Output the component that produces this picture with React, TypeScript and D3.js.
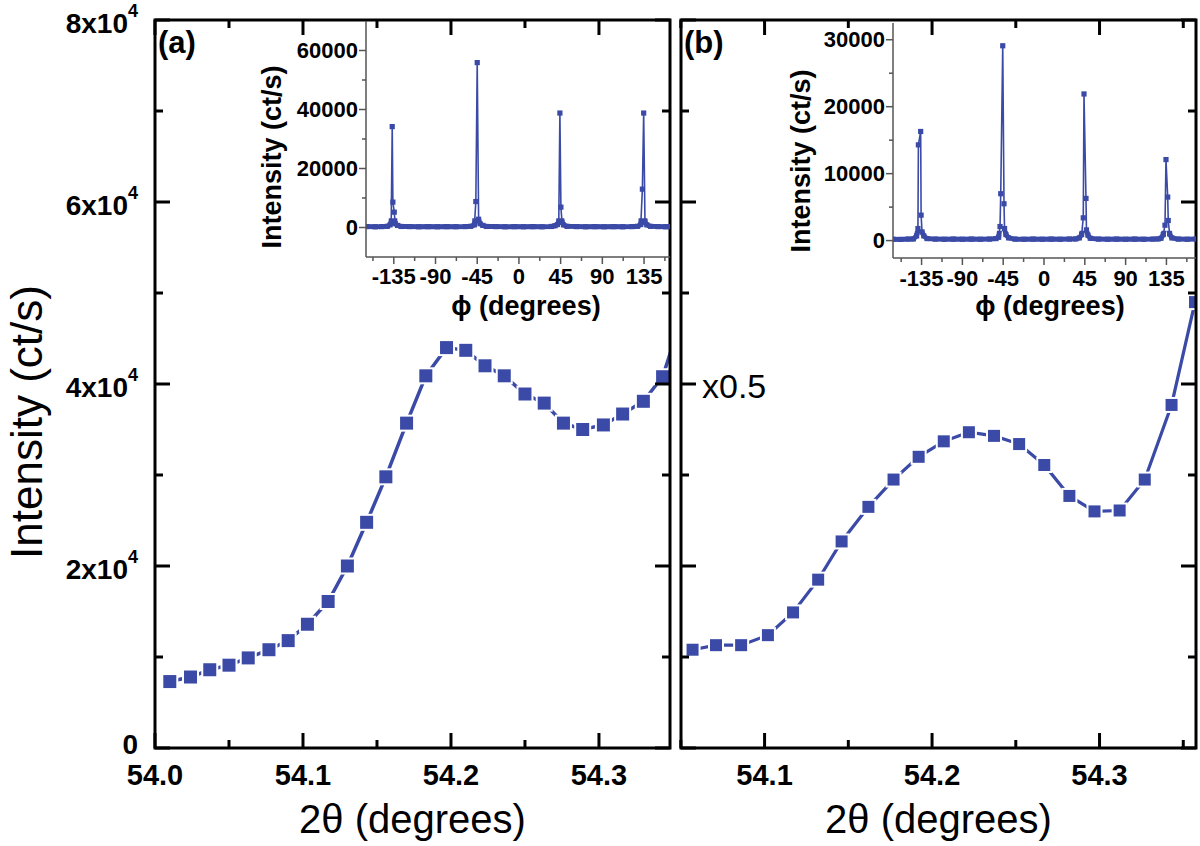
import React from 'react';
import * as d3 from 'd3';

// ---------- data ----------
// Panel (a): 2θ scan
const thetaA = [54.010, 54.024, 54.037, 54.050, 54.063, 54.077, 54.090, 54.103, 54.117, 54.130, 54.143, 54.156, 54.170, 54.183, 54.197, 54.210, 54.223, 54.236, 54.250, 54.263, 54.276, 54.289, 54.303, 54.316, 54.330, 54.343, 54.356];
const intensityA = [7300, 7800, 8600, 9100, 9900, 10800, 11800, 13600, 16100, 20000, 24800, 29800, 35700, 40900, 44000, 43700, 42000, 40900, 38900, 37900, 35700, 35000, 35500, 36700, 38100, 40800, 47300];

// Panel (b): 2θ scan (plotted x0.5)
const thetaB = [54.057, 54.071, 54.086, 54.102, 54.117, 54.132, 54.146, 54.162, 54.177, 54.192, 54.207, 54.222, 54.237, 54.252, 54.267, 54.282, 54.297, 54.312, 54.327, 54.343, 54.357];
const intensityB = [10800, 11300, 11300, 12400, 14900, 18500, 22700, 26500, 29500, 32000, 33700, 34700, 34300, 33400, 31100, 27700, 26000, 26100, 29500, 37700, 49000];

// Inset (a): φ scan
const phiA = [-165, -155, -148, -142, -139, -137.8, -136.7, -136, -134.5, -133.5, -131, -127, -118, -108, -98, -88, -78, -68, -58, -52, -48, -46.5, -45, -43.5, -42, -39, -35, -25, -15, -5, 5, 15, 25, 35, 39, 41.5, 43, 44.2, 45.3, 46.5, 48, 52, 62, 72, 82, 92, 102, 112, 122, 128, 131.5, 133.2, 134.6, 136, 138, 142, 150, 158, 163];
const phiIntA = [300, 250, 300, 400, 900, 1500, 34200, 8600, 5200, 1300, 700, 350, 300, 250, 300, 250, 300, 280, 300, 400, 900, 8800, 55900, 2800, 1300, 700, 350, 300, 250, 300, 250, 300, 250, 350, 600, 1000, 1800, 38800, 6900, 1800, 900, 400, 300, 250, 300, 250, 300, 250, 300, 400, 1000, 13000, 38800, 1800, 900, 400, 300, 250, 300];

// Inset (b): φ scan
const phiB = [-166.5, -158, -150, -144, -140.5, -139, -138.5, -136, -135.5, -134.5, -132.5, -129, -120, -110, -100, -90, -80, -70, -60, -53, -50, -48.5, -47.7, -45.5, -44.1, -43.5, -42, -39, -32, -22, -12, -2, 8, 18, 28, 35, 39, 41.5, 43.3, 44.1, 46.3, 46.8, 48.5, 51, 60, 70, 80, 90, 100, 110, 120, 126, 129, 131.5, 133.4, 134.5, 136.4, 137, 138.5, 141, 148, 158, 167.6];
const phiIntB = [200, 180, 220, 250, 700, 1800, 14300, 16300, 3800, 1300, 700, 300, 220, 200, 220, 200, 220, 200, 220, 300, 500, 2100, 7000, 29100, 5500, 1800, 900, 400, 220, 200, 220, 200, 220, 200, 220, 250, 400, 900, 3400, 21900, 6300, 1600, 800, 350, 220, 200, 220, 200, 220, 200, 220, 250, 350, 900, 2300, 12100, 6500, 3000, 1000, 400, 220, 200, 220];

// Ticks
const mainYTicks = [0, 20000, 40000, 60000, 80000];
const mainYTickMantissa = ['0', '2', '4', '6', '8'];
const mainYMinor = [10000, 30000, 50000, 70000];
const xTicksA = [54.0, 54.1, 54.2, 54.3];
const xMinorA = [54.05, 54.15, 54.25];
const xTicksB = [54.1, 54.2, 54.3];
const xMinorB = [54.05, 54.15, 54.25, 54.35];
const phiTicks = [-135, -90, -45, 0, 45, 90, 135];
const phiMinor = [-157.5, -112.5, -67.5, -22.5, 22.5, 67.5, 112.5, 157.5];
const insetYTicksA = [0, 20000, 40000, 60000];
const insetYMinorA = [10000, 30000, 50000];
const insetYTicksB = [0, 10000, 20000, 30000];
const insetYMinorB = [5000, 15000, 25000];

const FONT = "Arial, 'Liberation Sans', Helvetica, sans-serif";
const BLUE = '#3a4aa6';
const TOP = 20;
const BOTTOM = 748;

type PanelProps = {
  id: string;
  x0: number; x1: number; dom: [number, number];
  theta: number[]; vals: number[];
  xTicks: number[]; xMinor: number[];
  yLabels: boolean; sq: number; lw: number;
  letter: string; letterX: number;
};

function MainPanel(p: PanelProps) {
  const x = d3.scaleLinear().domain(p.dom).range([p.x0, p.x1]);
  const y = d3.scaleLinear().domain([0, 80000]).range([BOTTOM, TOP]);
  const line = d3.line<number>().x((_, i) => x(p.theta[i])).y((d) => y(d));
  const path = line(p.vals) || '';
  const maj = 15, mnr = 8;
  return (
    <g>
      <defs>
        <clipPath id={`clip-${p.id}`}>
          <rect x={p.x0} y={TOP} width={p.x1 - p.x0} height={BOTTOM - TOP} />
        </clipPath>
      </defs>
      <g clipPath={`url(#clip-${p.id})`}>
        <path d={path} fill="none" stroke={BLUE} strokeWidth={p.lw} />
        {p.vals.map((v, i) => (
          <rect key={i} x={x(p.theta[i]) - p.sq / 2} y={y(v) - p.sq / 2} width={p.sq} height={p.sq}
            fill={BLUE} stroke="#fff" strokeWidth={2} />
        ))}
      </g>
      {p.xTicks.map((t) => (
        <g key={`xt${t}`}>
          <line x1={x(t)} x2={x(t)} y1={BOTTOM} y2={BOTTOM - maj} stroke="#000" strokeWidth={3} />
          <line x1={x(t)} x2={x(t)} y1={TOP} y2={TOP + maj} stroke="#000" strokeWidth={3} />
        </g>
      ))}
      {p.xMinor.map((t) => (
        <g key={`xm${t}`}>
          <line x1={x(t)} x2={x(t)} y1={BOTTOM} y2={BOTTOM - mnr} stroke="#000" strokeWidth={3} />
          <line x1={x(t)} x2={x(t)} y1={TOP} y2={TOP + mnr} stroke="#000" strokeWidth={3} />
        </g>
      ))}
      {mainYTicks.map((t) => (
        <g key={`yt${t}`}>
          <line x1={p.x0} x2={p.x0 + maj} y1={y(t)} y2={y(t)} stroke="#000" strokeWidth={3} />
          <line x1={p.x1} x2={p.x1 - maj} y1={y(t)} y2={y(t)} stroke="#000" strokeWidth={3} />
        </g>
      ))}
      {mainYMinor.map((t) => (
        <g key={`ym${t}`}>
          <line x1={p.x0} x2={p.x0 + mnr} y1={y(t)} y2={y(t)} stroke="#000" strokeWidth={3} />
          <line x1={p.x1} x2={p.x1 - mnr} y1={y(t)} y2={y(t)} stroke="#000" strokeWidth={3} />
        </g>
      ))}
      <rect x={p.x0} y={TOP} width={p.x1 - p.x0} height={BOTTOM - TOP} fill="none" stroke="#000" strokeWidth={3} />
      {p.xTicks.map((t) => (
        <text key={`xl${t}`} x={x(t)} y={775} textAnchor="middle" dominantBaseline="central"
          fontFamily={FONT} fontWeight="bold" fontSize={29}>{t.toFixed(1)}</text>
      ))}
      {p.yLabels && mainYTicks.map((t, i) => (
        t === 0 ? (
          <text key={`yl${t}`} x={138} y={y(t) - 4} textAnchor="end" dominantBaseline="central"
            fontFamily={FONT} fontWeight="bold" fontSize={28}>0</text>
        ) : (
          <text key={`yl${t}`} x={138} y={y(t) + 3} textAnchor="end" dominantBaseline="central"
            fontFamily={FONT} fontWeight="bold" fontSize={28}>
            {mainYTickMantissa[i]}x10
            <tspan dy={-12} fontSize={18}>4</tspan>
          </text>
        )
      ))}
      <text x={p.letterX} y={53} fontFamily={FONT} fontWeight="bold" fontSize={31}>{p.letter}</text>
      <text x={(p.x0 + p.x1) / 2} y={833} textAnchor="middle" fontFamily={FONT} fontSize={40}>2θ (degrees)</text>
    </g>
  );
}

type InsetProps = {
  id: string;
  x0: number; x1: number; yTop: number; yBot: number;
  xDom: [number, number]; yDom: [number, number];
  phi: number[]; vals: number[];
  yTicks: number[]; yMinor: number[];
  yLabelRight: number; yTitleX: number; yTitleY: number;
  xTitleX: number; xTitleY: number; xLabelY: number;
};

function Inset(p: InsetProps) {
  const x = d3.scaleLinear().domain(p.xDom).range([p.x0, p.x1]);
  const y = d3.scaleLinear().domain(p.yDom).range([p.yBot, p.yTop]);
  const line = d3.line<number>().x((_, i) => x(p.phi[i])).y((d) => y(d));
  const path = line(p.vals) || '';
  const band = p.yDom[1] * 0.045;
  return (
    <g>
      <defs>
        <clipPath id={`iclip-${p.id}`}>
          <rect x={p.x0} y={p.yTop - 5} width={p.x1 - p.x0} height={p.yBot - p.yTop + 5} />
        </clipPath>
        <clipPath id={`bclip-${p.id}`}>
          <rect x={p.x0} y={y(band)} width={p.x1 - p.x0} height={y(-band) - y(band)} />
        </clipPath>
      </defs>
      <g clipPath={`url(#iclip-${p.id})`}>
        <path d={path} fill="none" stroke={BLUE} strokeWidth={1.6} />
        <g clipPath={`url(#bclip-${p.id})`}>
          <path d={path} fill="none" stroke={BLUE} strokeWidth={5} strokeLinejoin="round" />
        </g>
        {p.vals.map((v, i) => (
          <rect key={i} x={x(p.phi[i]) - 2.6} y={y(v) - 2.6} width={5.2} height={5.2} fill={BLUE} />
        ))}
      </g>
      <line x1={p.x0} x2={p.x0} y1={p.yTop} y2={p.yBot} stroke="#555" strokeWidth={1.5} />
      <line x1={p.x0} x2={p.x1} y1={p.yBot} y2={p.yBot} stroke="#555" strokeWidth={1.5} />
      {phiTicks.map((t) => (
        <line key={`pt${t}`} x1={x(t)} x2={x(t)} y1={p.yBot} y2={p.yBot + 7} stroke="#555" strokeWidth={1.5} />
      ))}
      {phiMinor.filter((t) => x(t) >= p.x0 && x(t) <= p.x1).map((t) => (
        <line key={`pm${t}`} x1={x(t)} x2={x(t)} y1={p.yBot} y2={p.yBot + 4} stroke="#555" strokeWidth={1.5} />
      ))}
      {p.yTicks.map((t) => (
        <line key={`it${t}`} x1={p.x0} x2={p.x0 - 7} y1={y(t)} y2={y(t)} stroke="#555" strokeWidth={1.5} />
      ))}
      {p.yMinor.map((t) => (
        <line key={`im${t}`} x1={p.x0} x2={p.x0 - 4} y1={y(t)} y2={y(t)} stroke="#555" strokeWidth={1.5} />
      ))}
      {phiTicks.map((t) => (
        <text key={`pl${t}`} x={x(t)} y={p.xLabelY} textAnchor="middle" dominantBaseline="central"
          fontFamily={FONT} fontWeight="bold" fontSize={22}>{t}</text>
      ))}
      {p.yTicks.map((t) => (
        <text key={`il${t}`} x={p.yLabelRight} y={y(t)} textAnchor="end" dominantBaseline="central"
          fontFamily={FONT} fontWeight="bold" fontSize={22}>{t}</text>
      ))}
      <text x={p.xTitleX} y={p.xTitleY} textAnchor="middle" fontFamily={FONT} fontWeight="bold" fontSize={27}>ϕ (degrees)</text>
      <text transform={`translate(${p.yTitleX},${p.yTitleY}) rotate(-90)`} textAnchor="middle" dominantBaseline="central"
        fontFamily={FONT} fontWeight="bold" fontSize={27}>Intensity (ct/s)</text>
    </g>
  );
}

export default function App() {
  return (
    <svg width={1200} height={846} viewBox="0 0 1200 846"
      style={{ position: 'absolute', left: 0, top: 0, display: 'block', background: '#fff' }}>
      <rect x={0} y={0} width={1200} height={846} fill="#fff" />
      <MainPanel id="a" x0={155} x1={670} dom={[54.0, 54.348]} theta={thetaA} vals={intensityA}
        xTicks={xTicksA} xMinor={xMinorA} yLabels={true} sq={15} lw={3.5} letter="(a)" letterX={158} />
      <MainPanel id="b" x0={681} x1={1196} dom={[54.0501, 54.3576]} theta={thetaB} vals={intensityB}
        xTicks={xTicksB} xMinor={xMinorB} yLabels={false} sq={14} lw={3.2} letter="(b)" letterX={684} />
      <Inset id="a" x0={366} x1={670} yTop={21} yBot={257} xDom={[-165, 163]} yDom={[-10000, 70000]}
        phi={phiA} vals={phiIntA} yTicks={insetYTicksA} yMinor={insetYMinorA}
        yLabelRight={358} yTitleX={272} yTitleY={157} xTitleX={526} xTitleY={315} xLabelY={276} />
      <Inset id="b" x0={893} x1={1196} yTop={23} yBot={258} xDom={[-166.5, 167.6]} yDom={[-2600, 32500]}
        phi={phiB} vals={phiIntB} yTicks={insetYTicksB} yMinor={insetYMinorB}
        yLabelRight={885} yTitleX={801} yTitleY={161} xTitleX={1050} xTitleY={315} xLabelY={278} />
      <text x={702} y={386} dominantBaseline="central" fontFamily={FONT} fontSize={34}>x0.5</text>
      <text transform="translate(26,422) rotate(-90)" textAnchor="middle" dominantBaseline="central"
        fontFamily={FONT} fontSize={44}>Intensity (ct/s)</text>
    </svg>
  );
}
